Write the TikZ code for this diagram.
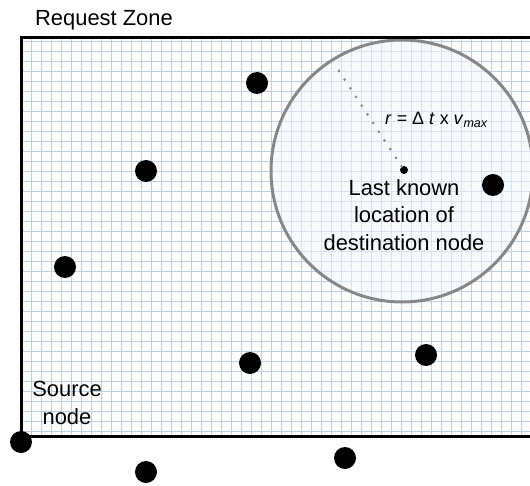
\documentclass[tikz,border=0pt]{standalone}
\usepackage{fontspec}
\setmainfont{Liberation Sans}
\begin{document}
\begin{tikzpicture}[x=1bp,y=-1bp,
  gridline/.style={draw={rgb,255:red,188;green,207;blue,234}, line width=1.4bp},
  frameline/.style={draw=black, line width=3bp},
  hostdot/.style={circle, fill=black, inner sep=0pt, minimum size=22bp},
  centerdot/.style={circle, fill=black, inner sep=0pt, minimum size=8bp},
  reach/.style={circle, inner sep=0pt, minimum size=262bp,
    draw={rgb,255:red,135;green,135;blue,135}, line width=3bp,
    fill={rgb,255:red,240;green,245;blue,252}, fill opacity=0.5},
  radius line/.style={draw={rgb,255:red,140;green,140;blue,140}, line width=3bp,
    line cap=round, dash pattern=on 0pt off 10.4bp},
  label/.style={font=\fontsize{22}{27.5}\selectfont, align=center, inner sep=0pt}]
\useasboundingbox (0,0) rectangle (530,486);
\begin{scope}
\clip (0,0) rectangle (530,486);
% graph-paper background of the request zone
\foreach \i in {0,...,49}
  \draw[gridline] ({31.5+10*\i},38) -- ++(0,398);
\foreach \j in {0,...,39}
  \draw[gridline] (21,{41.5+10*\j}) -- (532,{41.5+10*\j});
% reachable area of the destination
\node[reach] (area) at (402,171) {};
% request zone border, open to the right
\draw[frameline] (534,38) -| (21,436) -- (534,436);
\end{scope}

% last known position and radius
\node[centerdot] (last) at (404,170) {};
\coordinate (rtip) at (337,68);
\draw[radius line] (last) -- (rtip);

% other nodes in the network
\node[hostdot] (n1) at (257,83) {};
\node[hostdot] (n2) at (146,171) {};
\node[hostdot] (n3) at (65,267) {};
\node[hostdot] (n4) at (493,185) {};
\node[hostdot] (n5) at (250,363) {};
\node[hostdot] (n6) at (426,355) {};
\node[hostdot] (src) at (21,442) {};
\node[hostdot] (n7) at (146,472) {};
\node[hostdot] (n8) at (345,458) {};

% labels
\node[label, anchor=base] (zone) at (104,26) {Request Zone};
\node[label] (srclabel) at (67,403) {Source\\node};
\node[label] (destlabel) at (404,215) {Last known\\location of\\destination node};
\node[font=\fontsize{18}{22}\selectfont, anchor=base west, inner sep=0pt] (radius)
  at (385,125) {\textit{r} = Δ \textit{t} x \textit{v}\textsubscript{\textit{max}}};
\end{tikzpicture}
\end{document}
